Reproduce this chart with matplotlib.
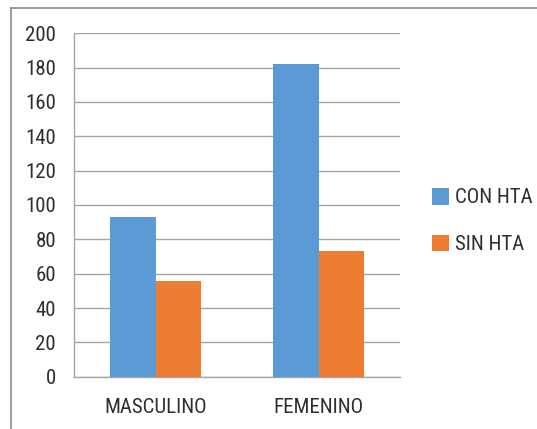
import matplotlib
matplotlib.use("Agg")
import matplotlib.pyplot as plt
from matplotlib import font_manager
import numpy as np
from matplotlib.patches import Patch
from matplotlib.lines import Line2D

categories = ["MASCULINO", "FEMENINO"]
series_names = ["CON HTA", "SIN HTA"]
con_hta = [93, 182]
sin_hta = [56, 73]
y_ticks = [0, 20, 40, 60, 80, 100, 120, 140, 160, 180, 200]

colors = ["#5b9bd5", "#ed7d31"]
text_color = "#2e2e2e"
grid_color = "#a6a6a6"

# prefer a condensed sans face; fall back to Roboto at a smaller size
available = {f.name for f in font_manager.fontManager.ttflist}
font_size = 13
family = "Roboto"
for name, size in [("Roboto Condensed", 15), ("Open Sans Condensed", 15),
                   ("Liberation Sans Narrow", 15)]:
    if name in available:
        family, font_size = name, size
        break
plt.rcParams["font.family"] = [family, "DejaVu Sans"]

W, H = 537, 429
fig = plt.figure(figsize=(W / 100, H / 100), dpi=100)
fig.patch.set_facecolor("white")

ax = fig.add_axes([74 / W, 1 - 376.7 / H, (400 - 74) / W, (376.7 - 33.3) / H])

x = np.arange(len(categories))
bw = 0.28
ax.bar(x - bw / 2, con_hta, width=bw, color=colors[0], zorder=3)
ax.bar(x + bw / 2, sin_hta, width=bw, color=colors[1], zorder=3)

ax.set_xlim(-0.5, len(categories) - 0.5)
ax.set_ylim(0, 200)
ax.set_yticks(y_ticks)
ax.set_yticklabels([str(v) for v in y_ticks])
ax.set_xticks(x)
ax.set_xticklabels(categories)
ax.yaxis.grid(True, color=grid_color, linewidth=1.0, zorder=0)
ax.set_axisbelow(True)

for s in ["top", "right"]:
    ax.spines[s].set_visible(False)
for s in ["left", "bottom"]:
    ax.spines[s].set_color(grid_color)
    ax.spines[s].set_linewidth(1.0)

ax.tick_params(axis="both", length=0, labelsize=font_size, colors=text_color)
ax.tick_params(axis="y", pad=13)
ax.tick_params(axis="x", pad=15)

handles = [Patch(facecolor=c, edgecolor="none") for c in colors]
fig.legend(handles, series_names, loc="center left",
           bbox_to_anchor=(413 / W, 1 - 221 / H), frameon=False,
           fontsize=font_size, handlelength=0.85, handleheight=0.85,
           handletextpad=0.25, labelspacing=1.3, labelcolor=text_color)

# outer chart frame (top and left edges)
fig.add_artist(Line2D([11 / W, 1.0], [1 - 7.5 / H, 1 - 7.5 / H],
                      transform=fig.transFigure, color="#8c8c8c", linewidth=1.2))
fig.add_artist(Line2D([11 / W, 11 / W], [0.0, 1 - 7.5 / H],
                      transform=fig.transFigure, color="#8c8c8c", linewidth=1.2))

fig.savefig("out.png", dpi=100)
